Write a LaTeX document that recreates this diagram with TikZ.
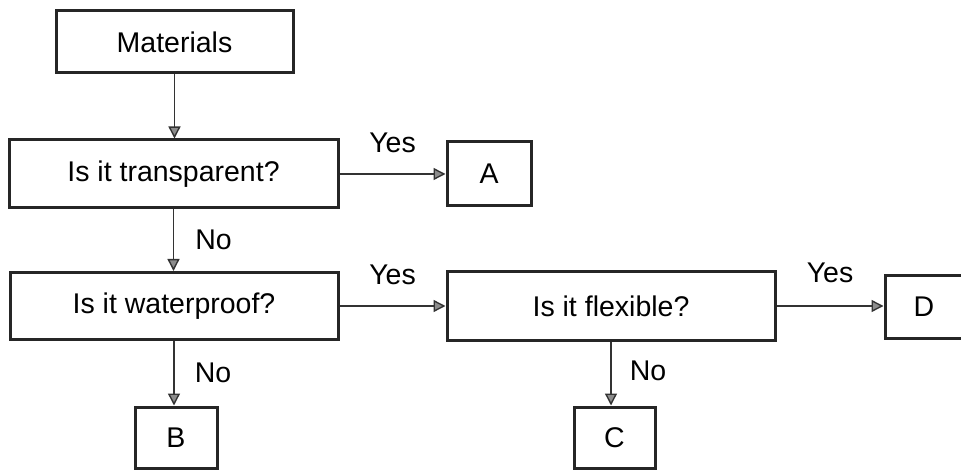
\documentclass[tikz,border=0pt]{standalone}
\usepackage{fontspec}
\setmainfont{Liberation Sans}
\usepackage{tikz}
\usetikzlibrary{arrows.meta}
\usetikzlibrary{positioning}

\begin{document}
\begin{tikzpicture}[x=1pt,y=-1pt,
	every node/.style={font=\fontsize{28.5}{32}\selectfont},
	bx/.style={draw=black!85,line width=3pt,fill=white,inner sep=0pt},
	arr/.style={draw=black!80,line width=1.4pt,
	-{Triangle[length=12pt,width=12pt,fill=black!45]}}]
\useasboundingbox (0,0) rectangle (961,470);
\node [bx, minimum width=237, minimum height=62] (0) at (174.5,42) {Materials};
\node [bx, minimum width=329, minimum height=68] (1) at (173.5,174) {Is it transparent?};
\node [bx, minimum width=84, minimum height=64] (2) at (489,174) {A};
\node [bx, minimum width=328, minimum height=67] (3) at (174,306) {Is it waterproof?};
\node [bx, minimum width=328, minimum height=69] (4) at (611,306) {Is it flexible?};
\node [bx, minimum width=78, minimum height=62] (5) at (924,307) {D};
\node [bx, minimum width=82, minimum height=61] (6) at (176,437.5) {B};
\node [bx, minimum width=81, minimum height=61] (7) at (614.5,437.5) {C};
\draw [arr] (0.south) -- (0.south |- 1.north);
\draw [arr] (1.east) -- (1.east -| 2.west) node [midway, yshift=31pt] (8) {Yes};
\draw [arr] (1.south) -- (1.south |- 3.north) node [midway, xshift=40pt] (9) {No};
\draw [arr] (3.east) -- (3.east -| 4.west) node [midway, yshift=31pt] (10) {Yes};
\draw [arr] (4.east) -- (4.east -| 5.west) node [midway, yshift=33pt] (11) {Yes};
\draw [arr] (3.south) -- (3.south |- 6.north) node [midway, xshift=39pt] (12) {No};
\draw [arr] (4.south) -- (4.south |- 7.north) node [midway, xshift=37pt, yshift=3pt] (13) {No};
\end{tikzpicture}
\end{document}
